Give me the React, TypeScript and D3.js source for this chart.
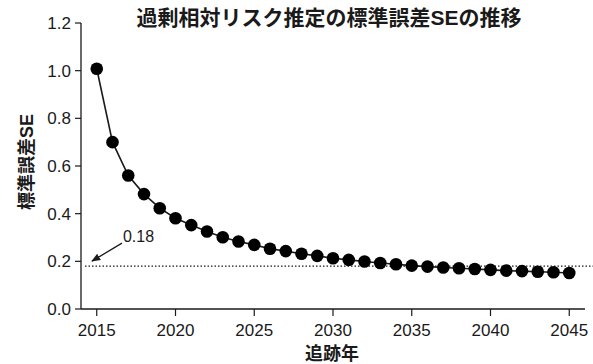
import React from "react";
import * as d3 from "d3";

const years = [2015,2016,2017,2018,2019,2020,2021,2022,2023,2024,2025,2026,2027,2028,2029,2030,2031,2032,2033,2034,2035,2036,2037,2038,2039,2040,2041,2042,2043,2044,2045];
const seValues = [1.008,0.70,0.56,0.482,0.423,0.381,0.352,0.325,0.301,0.283,0.269,0.253,0.243,0.232,0.223,0.213,0.206,0.199,0.193,0.188,0.182,0.178,0.174,0.171,0.168,0.164,0.161,0.159,0.156,0.154,0.151];
const xTicks = [2015,2020,2025,2030,2035,2040,2045];
const yTicks = [0.0,0.2,0.4,0.6,0.8,1.0,1.2];
const refValue = 0.18;
const refLabel = "0.18";
const title = "過剰相対リスク推定の標準誤差SEの推移";
const xLabel = "追跡年";
const yLabel = "標準誤差SE";

const FONT = "'Liberation Sans', Arial, 'Noto Sans CJK JP', sans-serif";
const INK = "#1a1a1a";

export default function App() {
  const W = 593, H = 364;
  const x = d3.scaleLinear().domain([2014, 2046]).range([81, 585]);
  const y = d3.scaleLinear().domain([0, 1.2]).range([309, 23]);
  const line = d3.line<number>().x((_, i) => x(years[i])).y((d) => y(d));
  const yr = y(refValue);
  const arrowEnd: [number, number] = [x(2014.7), yr - 5];
  const arrowStart: [number, number] = [x(2016.6), yr - 23];
  return (
    <svg width={W} height={H} style={{ position: "absolute", left: 0, top: 0, background: "#fff" }} fontFamily={FONT}>
      <defs>
        <marker id="ah" viewBox="0 0 10 10" refX="9" refY="5" markerWidth="7" markerHeight="7" orient="auto">
          <path d="M0,1 L10,5 L0,9 z" fill={INK} />
        </marker>
      </defs>
      <text x={329} y={25} textAnchor="middle" fontSize={21} fontWeight="bold" fill={INK}>{title}</text>
      {/* axes */}
      <line x1={x(2014)} x2={x(2014)} y1={y(1.2)} y2={y(0)} stroke={INK} strokeWidth={1.3} />
      <line x1={x(2014)} x2={x(2046)} y1={y(0)} y2={y(0)} stroke={INK} strokeWidth={1.3} />
      {yTicks.map((t) => (
        <g key={t}>
          <line x1={x(2014) - 6} x2={x(2014)} y1={y(t)} y2={y(t)} stroke={INK} strokeWidth={1.2} />
          <text x={x(2014) - 10} y={y(t)} dy="0.35em" textAnchor="end" fontSize={17} fill={INK}>{t.toFixed(1)}</text>
        </g>
      ))}
      {xTicks.map((t) => (
        <g key={t}>
          <line x1={x(t)} x2={x(t)} y1={y(0)} y2={y(0) + 7} stroke={INK} strokeWidth={1.2} />
          <text x={x(t)} y={y(0) + 27} textAnchor="middle" fontSize={17} fill={INK}>{t}</text>
        </g>
      ))}
      <text x={332} y={360} textAnchor="middle" fontSize={18} fontWeight="bold" fill={INK}>{xLabel}</text>
      <text transform={`translate(33,162) rotate(-90)`} textAnchor="middle" fontSize={18} fontWeight="bold" fill={INK}>{yLabel}</text>
      {/* reference line */}
      <line x1={x(2014) + 4} x2={W} y1={yr} y2={yr} stroke={INK} strokeWidth={1.2} strokeDasharray="1.5,2" />
      <line x1={arrowStart[0]} y1={arrowStart[1]} x2={arrowEnd[0]} y2={arrowEnd[1]} stroke={INK} strokeWidth={1.3} markerEnd="url(#ah)" />
      <text x={arrowStart[0] + 1} y={arrowStart[1] - 1} fontSize={16} fill={INK}>{refLabel}</text>
      {/* series */}
      <path d={line(seValues) || ""} fill="none" stroke={INK} strokeWidth={1.6} />
      {seValues.map((v, i) => (
        <circle key={years[i]} cx={x(years[i])} cy={y(v)} r={6.3} fill="#000" />
      ))}
    </svg>
  );
}
